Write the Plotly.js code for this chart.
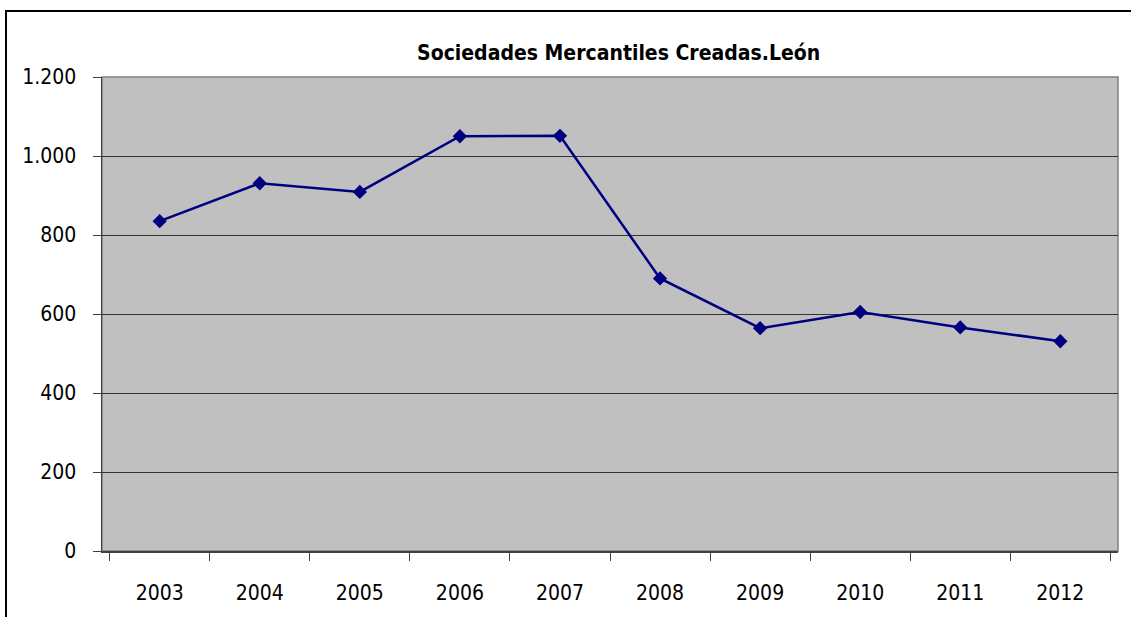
<!DOCTYPE html>
<html>
<head>
<meta charset="utf-8">
<script src="https://cdn.plot.ly/plotly-3.0.1.min.js"></script>
<style>
html,body{margin:0;padding:0;background:#fff;}
#chart{width:1131px;height:617px;}
</style>
</head>
<body>
<div id="chart"></div>
<script>
const years = ['2003','2004','2005','2006','2007','2008','2009','2010','2011','2012'];
const sociedades = [835, 931, 909, 1050, 1051, 690, 564, 605, 566, 531];
const yTicks = [0, 200, 400, 600, 800, 1000, 1200];

const FONT = '"DejaVu Sans Condensed", "Liberation Sans Narrow", "Arial Narrow", sans-serif';

const trace = {
  x: years,
  y: sociedades,
  type: 'scatter',
  mode: 'lines+markers',
  line: {color: '#000080', width: 2.5},
  marker: {symbol: 'diamond', size: 11, color: '#000080'},
  hoverinfo: 'x+y'
};

const layout = {
  width: 1131,
  height: 617,
  margin: {l: 102, r: 13, t: 77, b: 66},
  paper_bgcolor: '#ffffff',
  plot_bgcolor: '#c0c0c0',
  separators: ',.',
  showlegend: false,
  title: {
    text: '<b>Sociedades Mercantiles Creadas.León</b>',
    font: {family: FONT, size: 21, color: '#000'},
    x: 0.547, xanchor: 'center', y: 0.915, yanchor: 'middle'
  },
  xaxis: {
    type: 'category',
    tickson: 'boundaries',
    ticks: 'outside',
    ticklen: 8,
    tickcolor: '#404040',
    ticklabelstandoff: 22,
    showline: true,
    linecolor: '#404040',
    linewidth: 1.5,
    showgrid: false,
    tickfont: {family: FONT, size: 21, color: '#000'},
    fixedrange: true
  },
  yaxis: {
    range: [0, 1200],
    tickvals: yTicks,
    tickformat: ',d',
    ticks: 'outside',
    ticklen: 8,
    tickcolor: '#404040',
    ticklabelstandoff: 12,
    showline: true,
    linecolor: '#404040',
    linewidth: 1.5,
    showgrid: true,
    gridcolor: '#333333',
    gridwidth: 1,
    zeroline: false,
    tickfont: {family: FONT, size: 21, color: '#000'},
    fixedrange: true
  },
  shapes: [
    {type: 'rect', xref: 'paper', yref: 'paper', x0: 0, x1: 1, y0: 0, y1: 1,
     line: {color: '#808080', width: 1.5}, layer: 'below'},
    {type: 'rect', xref: 'paper', yref: 'paper',
     x0: (6 - 102) / 1016, x1: (1140 - 102) / 1016,
     y0: (551.5 - 630) / 474.5, y1: (551.5 - 11) / 474.5,
     line: {color: '#000', width: 2}, fillcolor: 'rgba(0,0,0,0)'}
  ]
};

Plotly.newPlot('chart', [trace], layout, {displayModeBar: false, staticPlot: true});
</script>
</body>
</html>
